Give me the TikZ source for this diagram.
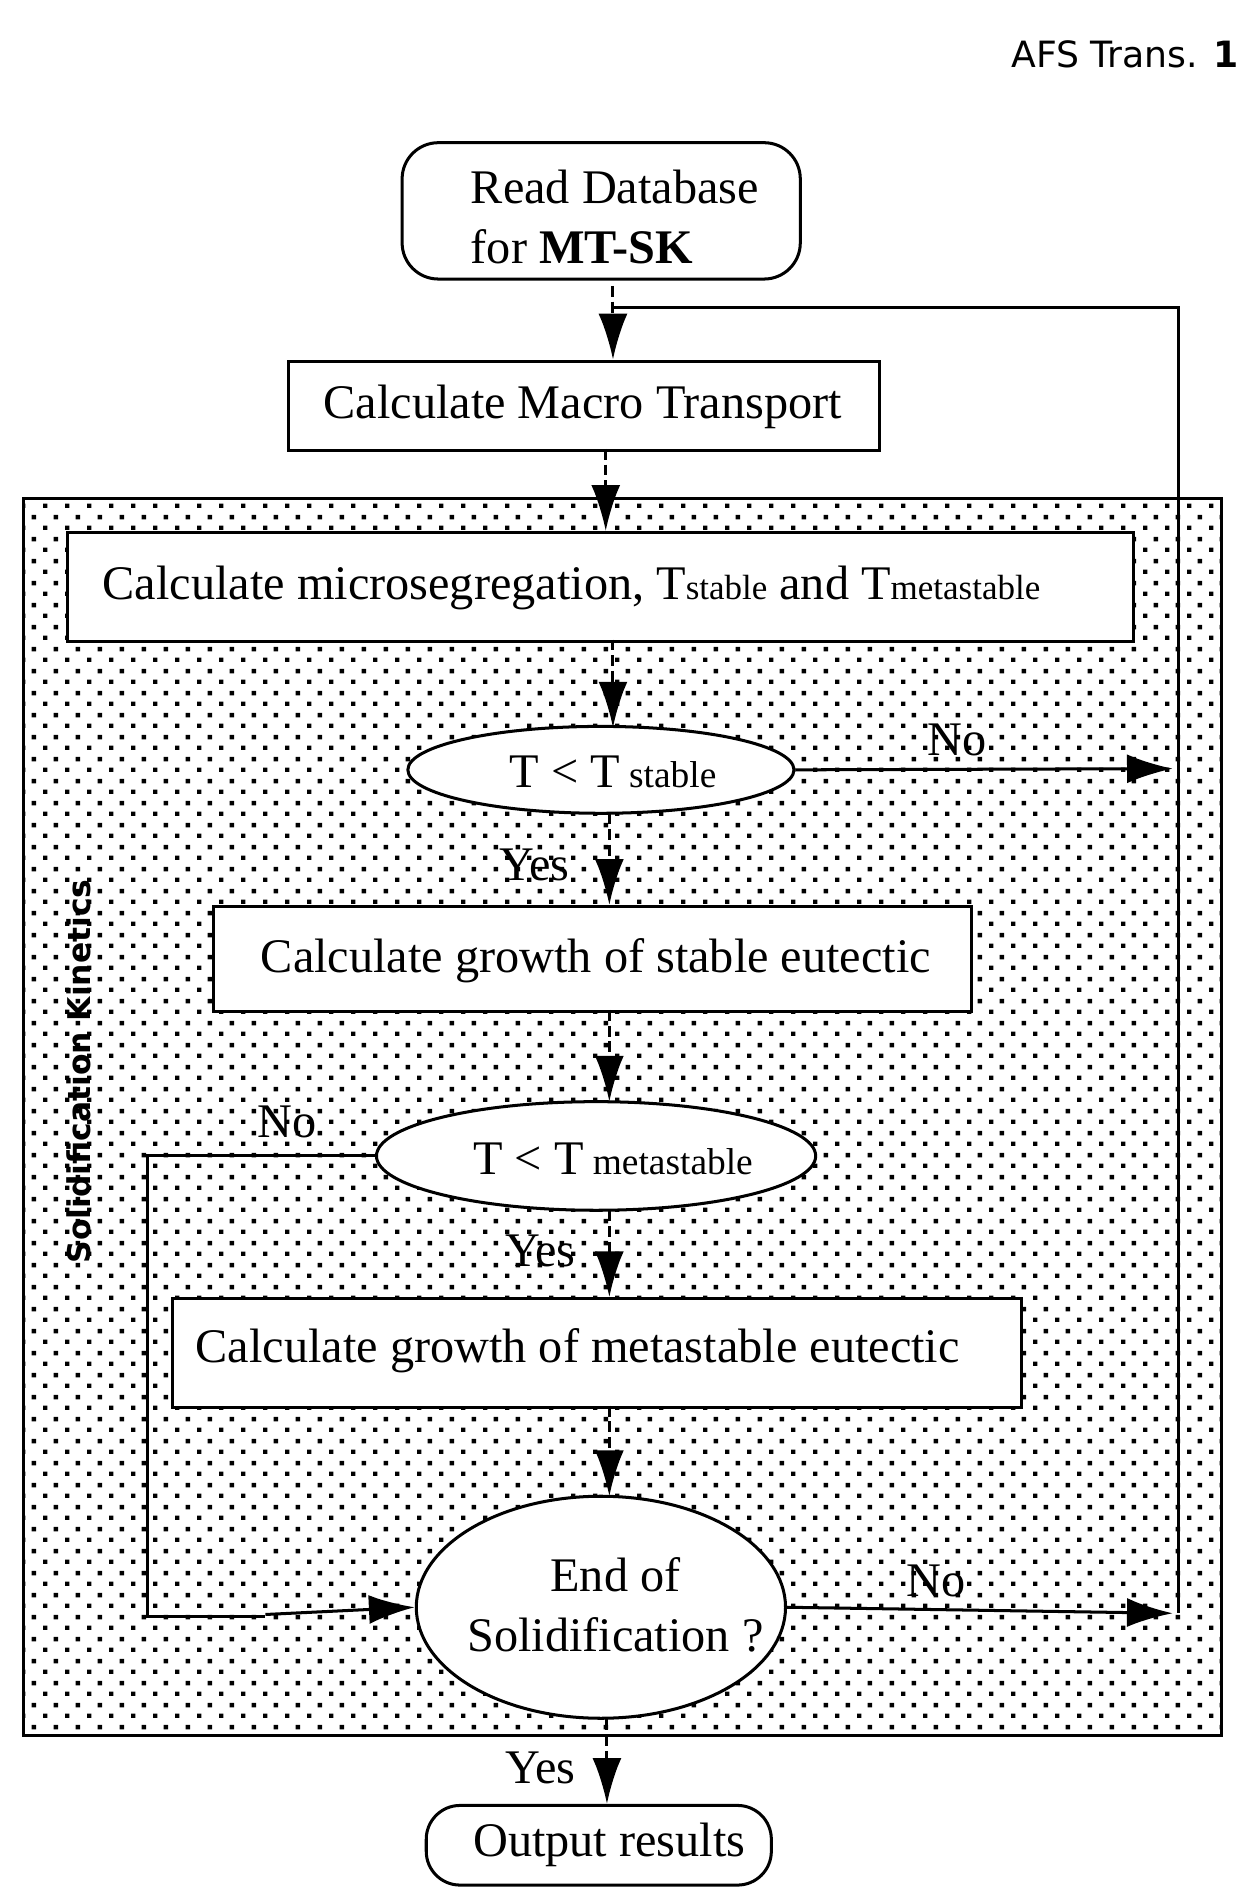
\documentclass[tikz,border=0pt]{standalone}
\usepackage{fontspec}
\setmainfont{Liberation Serif}
\setsansfont{DejaVu Sans}
\usetikzlibrary{arrows.meta,shapes.geometric,patterns}
\pgfdeclarepatternformonly{mydots}{\pgfpointorigin}{\pgfpoint{18pt}{18pt}}{\pgfpoint{18pt}{18pt}}{%
  \pgfpathrectangle{\pgfpoint{0pt}{0pt}}{\pgfpoint{3.6pt}{3.6pt}}%
  \pgfpathrectangle{\pgfpoint{9pt}{9pt}}{\pgfpoint{3.6pt}{3.6pt}}%
  \pgfusepath{fill}}
\begin{document}
\begin{tikzpicture}[x=1pt,y=-1pt,
  every node/.style={font=\fontsize{40}{50}\selectfont},
  box/.style={draw,line width=2.5pt,fill=white,inner sep=0pt},
  oval/.style={draw,line width=2.5pt,fill=white,ellipse,inner sep=0pt},
  lbl/.style={inner sep=0pt},
  arr/.style={line width=2.5pt,dash pattern=on 9pt off 4pt,-{Latex[length=38pt,width=24pt,sep=0pt]}},
  sarr/.style={line width=2.5pt,-{Latex[length=38pt,width=24pt]}},
  ln/.style={line width=2.5pt}]
\useasboundingbox (0,0) rectangle (1035,1568);
\clip (0,0) rectangle (1035,1568);
\node[lbl,anchor=west,font=\sffamily\fontsize{30}{32}\selectfont] (hdr) at (838,45) {AFS Trans. \textbf{1}};
% outer shaded region
\node[draw,line width=2.5pt,pattern=mydots,minimum width=993pt,minimum height=1025pt,anchor=north west,inner sep=0pt] (outer) at (18,412) {};
\node[lbl,rotate=90,font=\sffamily\bfseries\fontsize{26}{30}\selectfont] (sk) at (65,888) {Solidification Kinetics};
% nodes
\node[box,rounded corners=30pt,minimum width=330pt,minimum height=113pt,anchor=north west] (read) at (332,117) {};
\node[lbl,anchor=west,align=left] (readt) at (390,180) {Read Database\\for \textbf{MT-SK}};
\node[box,minimum width=490pt,minimum height=74pt,anchor=north west] (macro) at (238,298) {};
\node[lbl,anchor=west] at (268,337) {Calculate Macro Transport};
\node[box,minimum width=883pt,minimum height=90pt,anchor=north west] (micro) at (55,440) {};
\node[lbl,anchor=west] at (85,487) {Calculate microsegregation, T{\fontsize{29}{30}\selectfont stable} and T{\fontsize{29}{30}\selectfont metastable}};
\node[oval,minimum width=320pt,minimum height=72pt] (e1) at (498,638) {};
\node[lbl] at (508,640) {T < T{\fontsize{31}{31}\selectfont\ stable}};
\node[box,minimum width=628pt,minimum height=87pt,anchor=north west] (stab) at (176,750) {};
\node[lbl,anchor=west] at (216,796) {Calculate growth of stable eutectic};
\node[oval,minimum width=364pt,minimum height=90pt] (e2) at (494,958) {};
\node[lbl] at (508,960) {T < T{\fontsize{31}{31}\selectfont\ metastable}};
\node[box,minimum width=703pt,minimum height=90pt,anchor=north west] (meta) at (142,1075) {};
\node[lbl,anchor=west] at (162,1119) {Calculate growth of metastable eutectic};
\node[oval,minimum width=306pt,minimum height=184pt] (e3) at (498,1332) {};
\node[lbl,align=center] at (510,1330) {End of\\Solidification ?};
\node[box,rounded corners=28pt,minimum width=286pt,minimum height=66pt,anchor=north west] (out) at (352,1495) {};
\node[lbl,anchor=west] at (392,1529) {Output results};
% coordinates
\coordinate (ra) at (508,237);
\coordinate (lt) at (508,255);
\coordinate (rt) at (977,255);
\coordinate (rb) at (977,1337);
\coordinate (n1) at (972,637);
\coordinate (n3) at (972,1337);
\coordinate (l1) at (122,958);
\coordinate (l2) at (122,1340);
% connectors
\draw[arr] (ra) -- (508,298);
\draw[ln] (lt) -- (rt) -- (rb);
\draw[arr] (502,372) -- (502,440);
\draw[arr] (508,530) -- (508,603);
\draw[sarr] (e1.east) -- (n1);
\node[lbl] at (793,613) {No};
\draw[arr] (505,674) -- (505,750);
\node[lbl] at (443,717) {Yes};
\draw[arr] (505,837) -- (505,913);
\draw[ln] (e2.west) -- (l1) -- (l2) -- (220,1340);
\draw[sarr] (220,1338) -- (e3.west);
\node[lbl] at (238,930) {No};
\draw[arr] (505,1003) -- (505,1075);
\node[lbl] at (448,1037) {Yes};
\draw[arr] (505,1165) -- (505,1240);
\draw[sarr] (e3.east) -- (n3);
\node[lbl] at (776,1310) {No};
\draw[arr] (503,1425) -- (503,1495);
\node[lbl] at (448,1465) {Yes};
\end{tikzpicture}
\end{document}
